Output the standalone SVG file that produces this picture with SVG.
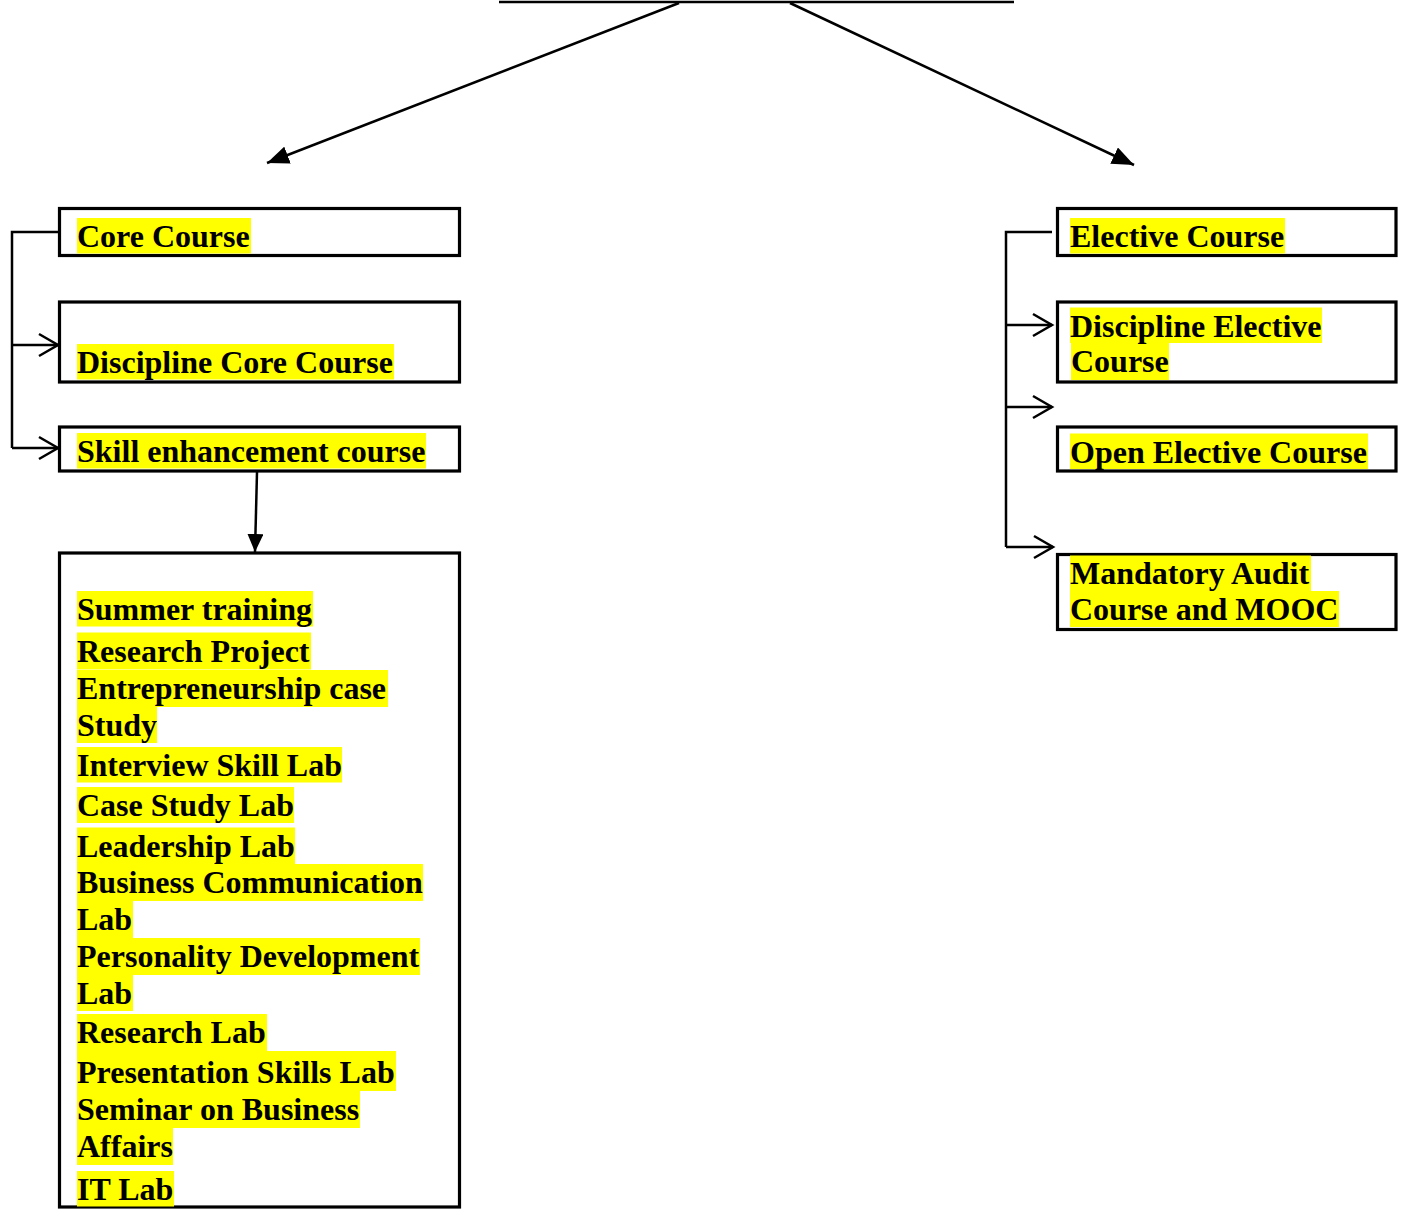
<svg xmlns="http://www.w3.org/2000/svg" width="1405" height="1209" viewBox="0 0 1405 1209">
<style>
.box{fill:#fff;stroke:#000;stroke-width:3.2}
.hl{fill:#ffff00}
.t{font-family:"Liberation Serif","Times New Roman",serif;font-weight:bold;font-size:32px;fill:#000}
.ln{fill:none;stroke:#000;stroke-width:2.5}
</style>
<defs>
<marker id="tri" viewBox="0 0 18 16" refX="18" refY="8" markerWidth="18" markerHeight="16" markerUnits="userSpaceOnUse" orient="auto">
<path d="M0,0 L18,8 L0,16 Z" fill="#000"/>
</marker>
<marker id="trib" viewBox="0 0 22 18" refX="22" refY="9" markerWidth="22" markerHeight="18" markerUnits="userSpaceOnUse" orient="auto">
<path d="M0,0 L22,9 L0,18 Z" fill="#000"/>
</marker>
<marker id="chev" viewBox="0 0 24 28" refX="21" refY="14" markerWidth="24" markerHeight="28" markerUnits="userSpaceOnUse" orient="auto">
<path d="M2,3 L21,14 L2,25" fill="none" stroke="#000" stroke-width="2.5"/>
</marker>
</defs>
<g id="connectors">
<line class="ln" x1="499" y1="2" x2="1014" y2="2" stroke-width="3"/>
<line class="ln" x1="679" y1="3" x2="267" y2="163" marker-end="url(#trib)"/>
<line class="ln" x1="790" y1="3" x2="1134" y2="165" stroke-width="2" marker-end="url(#trib)"/>
<polyline class="ln" points="59,232 12,232 12,448"/>
<line class="ln" x1="12" y1="345" x2="58" y2="345" marker-end="url(#chev)"/>
<line class="ln" x1="12" y1="448" x2="58" y2="448" marker-end="url(#chev)"/>
<line class="ln" x1="257" y1="472" x2="255" y2="552" marker-end="url(#tri)"/>
<polyline class="ln" points="1052,232 1006,232 1006,547"/>
<line class="ln" x1="1006" y1="325" x2="1052" y2="325" marker-end="url(#chev)"/>
<line class="ln" x1="1006" y1="407" x2="1052" y2="407" marker-end="url(#chev)"/>
<line class="ln" x1="1006" y1="547" x2="1053" y2="547" marker-end="url(#chev)"/>
</g>
<g id="core">
<rect class="box" x="59.5" y="208.5" width="400" height="47"/>
<rect class="hl" x="77" y="218" width="174" height="35.5"/>
<text class="t" x="77" y="247">Core Course</text>
</g>
<g id="discipline-core">
<rect class="box" x="59.5" y="302" width="400" height="80"/>
<rect class="hl" x="77" y="344" width="317" height="35.5"/>
<text class="t" x="77" y="373">Discipline Core Course</text>
</g>
<g id="skill">
<rect class="box" x="59.5" y="427" width="400" height="44"/>
<rect class="hl" x="77" y="433" width="349" height="35.5"/>
<text class="t" x="77" y="462">Skill enhancement course</text>
</g>
<g id="skill-list">
<rect class="box" x="59.5" y="553" width="400" height="654"/>
<rect class="hl" x="77" y="591" width="236" height="35.5"/>
<rect class="hl" x="77" y="632.5" width="234" height="37"/>
<rect class="hl" x="77" y="670" width="311" height="37"/>
<rect class="hl" x="77" y="707" width="80" height="36"/>
<rect class="hl" x="77" y="747" width="265" height="35.5"/>
<rect class="hl" x="77" y="787" width="217" height="36"/>
<rect class="hl" x="77" y="827.5" width="218" height="36.5"/>
<rect class="hl" x="77" y="864" width="346" height="37"/>
<rect class="hl" x="77" y="901" width="56" height="37"/>
<rect class="hl" x="77" y="938" width="343" height="37"/>
<rect class="hl" x="77" y="975" width="56" height="36"/>
<rect class="hl" x="77" y="1014" width="190" height="37"/>
<rect class="hl" x="77" y="1051" width="319" height="40"/>
<rect class="hl" x="77" y="1091" width="283" height="37"/>
<rect class="hl" x="77" y="1128" width="96" height="37"/>
<rect class="hl" x="77" y="1171" width="97" height="35.5"/>
<text class="t" x="77" y="620">Summer training</text>
<text class="t" x="77" y="661.5">Research Project</text>
<text class="t" x="77" y="699">Entrepreneurship case</text>
<text class="t" x="77" y="736">Study</text>
<text class="t" x="77" y="776">Interview Skill Lab</text>
<text class="t" x="77" y="816">Case Study Lab</text>
<text class="t" x="77" y="856.5">Leadership Lab</text>
<text class="t" x="77" y="893">Business Communication</text>
<text class="t" x="77" y="930">Lab</text>
<text class="t" x="77" y="967">Personality Development</text>
<text class="t" x="77" y="1004">Lab</text>
<text class="t" x="77" y="1043">Research Lab</text>
<text class="t" x="77" y="1082.5">Presentation Skills Lab</text>
<text class="t" x="77" y="1119.5">Seminar on Business</text>
<text class="t" x="77" y="1156.5">Affairs</text>
<text class="t" x="77" y="1200">IT Lab</text>
</g>
<g id="elective">
<rect class="box" x="1057.5" y="208.5" width="338.5" height="47"/>
<rect class="hl" x="1070" y="218" width="215" height="35.5"/>
<text class="t" x="1070" y="247">Elective Course</text>
</g>
<g id="discipline-elective">
<rect class="box" x="1057.5" y="302" width="338.5" height="80"/>
<rect class="hl" x="1070" y="307.5" width="252" height="35.5"/>
<rect class="hl" x="1071" y="343" width="98" height="37"/>
<text class="t" x="1070" y="336.5">Discipline Elective</text>
<text class="t" x="1071" y="372">Course</text>
</g>
<g id="open-elective">
<rect class="box" x="1057.5" y="427" width="338.5" height="44"/>
<rect class="hl" x="1070" y="433.5" width="298" height="35.5"/>
<text class="t" x="1070" y="462.5">Open Elective Course</text>
</g>
<g id="mandatory">
<rect class="box" x="1057.5" y="554.5" width="338.5" height="75"/>
<rect class="hl" x="1070" y="555.5" width="241" height="35.5"/>
<rect class="hl" x="1070" y="591" width="269" height="36"/>
<text class="t" x="1070" y="584">Mandatory Audit</text>
<text class="t" x="1070" y="620">Course and MOOC</text>
</g>
</svg>
